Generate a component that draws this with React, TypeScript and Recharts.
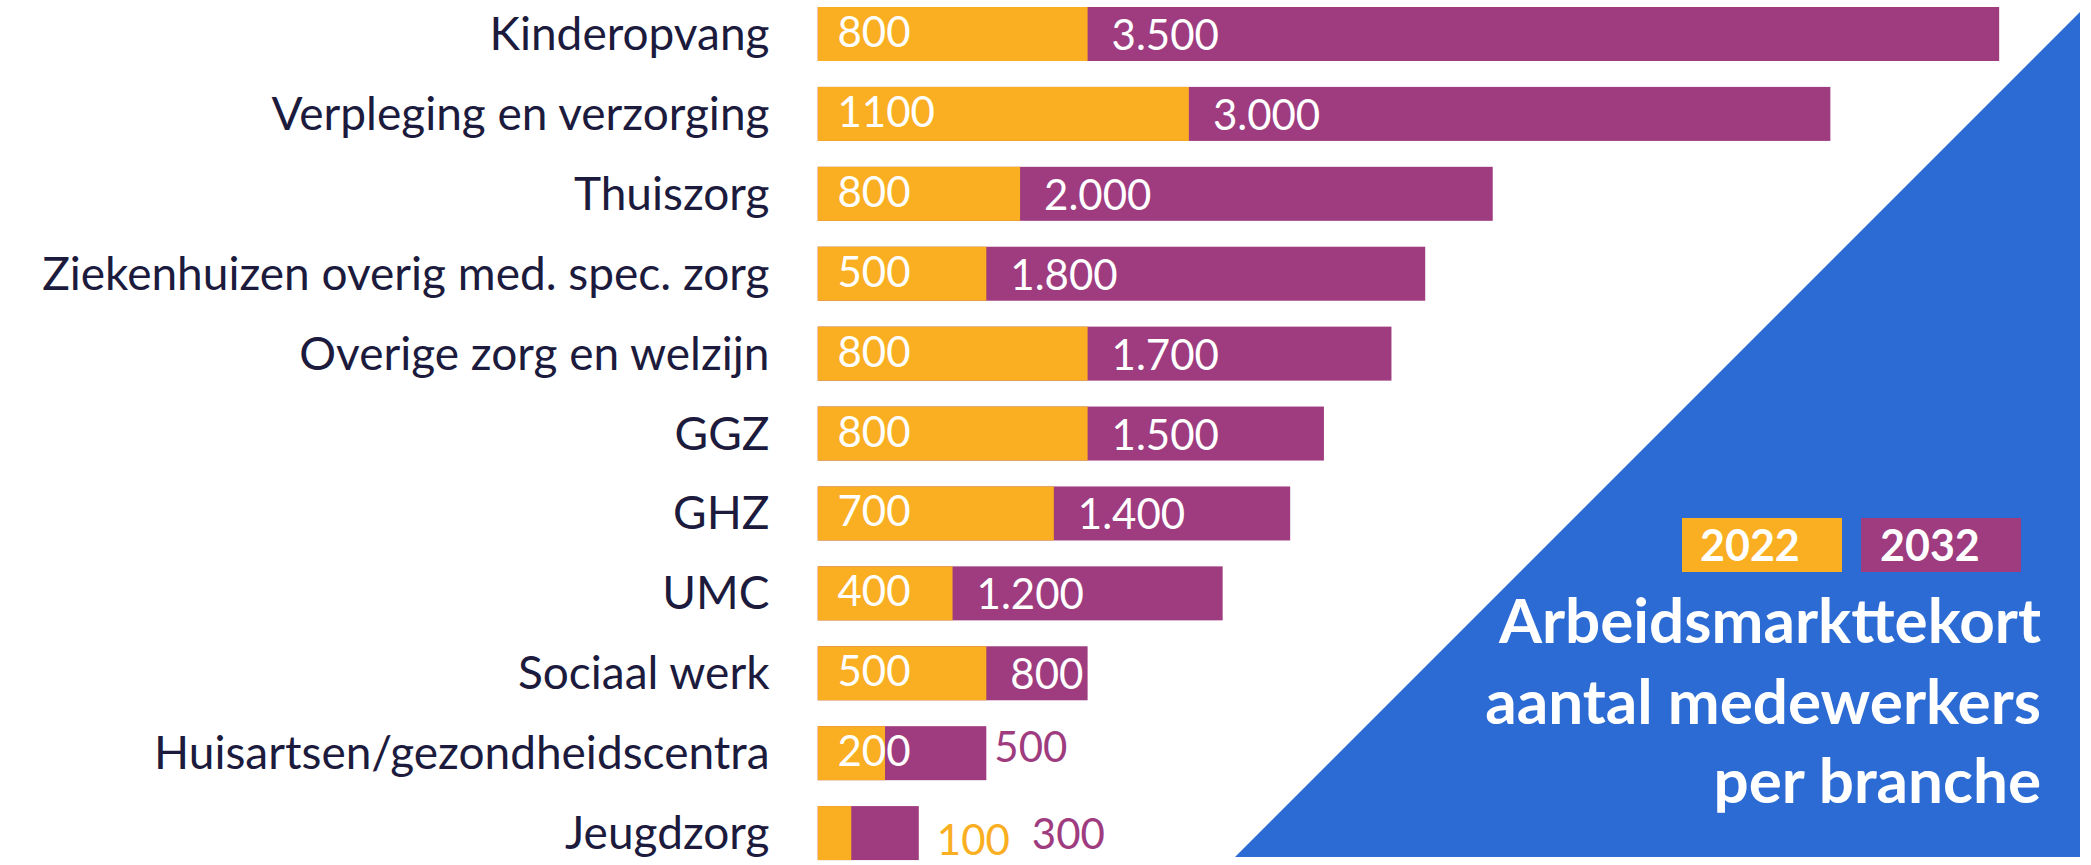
import React from "react";
import { BarChart, Bar, XAxis, YAxis } from "recharts";

const categories = [
  "Kinderopvang",
  "Verpleging en verzorging",
  "Thuiszorg",
  "Ziekenhuizen overig med. spec. zorg",
  "Overige zorg en welzijn",
  "GGZ",
  "GHZ",
  "UMC",
  "Sociaal werk",
  "Huisartsen/gezondheidscentra",
  "Jeugdzorg",
];
const values2022 = [800, 1100, 600, 500, 800, 800, 700, 400, 500, 200, 100];
const values2032 = [3500, 3000, 2000, 1800, 1700, 1500, 1400, 1200, 800, 500, 300];
const labels2022 = ["800", "1100", "800", "500", "800", "800", "700", "400", "500", "200", "100"];
const labels2032 = ["3.500", "3.000", "2.000", "1.800", "1.700", "1.500", "1.400", "1.200", "800", "500", "300"];
const legendLabels = ["2022", "2032"];
const titleLines = ["Arbeidsmarkttekort", "aantal medewerkers", "per branche"];

const data = categories.map((name, i) => ({
  name,
  v2022: values2022[i],
  v2032: values2032[i],
}));

const ORANGE = "#F9AF21";
const PURPLE = "#9E3C7F";
const BLUE = "#2B6BD3";
const NAVY = "#1C1B3D";
const FONT = "Lato, 'Source Sans Pro', 'Noto Sans', sans-serif";
const VALUE_FS = 42;

const PurpleShape = (props: any) => {
  const { x, y, width, height, index } = props;
  const cy = y + height / 2;
  const orangeW = (width * values2022[index]) / values2032[index];
  const outside = values2032[index] <= 500;
  const orangeOutside = values2022[index] < 200;
  let tx = x + orangeW + 24;
  let ty = cy + 16;
  let fill = "#ffffff";
  if (outside) {
    fill = PURPLE;
    if (orangeOutside) {
      tx = x + width + 113;
      ty = cy + 16;
    } else {
      tx = x + width + 8;
      ty = cy + 9;
    }
  }
  return (
    <g>
      <rect x={x} y={y} width={width} height={height} fill={PURPLE} />
      <text x={tx} y={ty} fill={fill} fontSize={VALUE_FS} fontFamily={FONT}>
        {labels2032[index]}
      </text>
    </g>
  );
};

const OrangeShape = (props: any) => {
  const { x, y, width, height, index } = props;
  const cy = y + height / 2;
  const purpleW = (width * values2032[index]) / values2022[index];
  const outside = values2022[index] < 200;
  const tx = outside ? x + purpleW + 18 : x + 20;
  const ty = outside ? cy + 22 : cy + 13;
  return (
    <g>
      <rect x={x} y={y} width={width} height={height} fill={ORANGE} />
      <text x={tx} y={ty} fill={outside ? ORANGE : "#ffffff"} fontSize={VALUE_FS} fontFamily={FONT}>
        {labels2022[index]}
      </text>
    </g>
  );
};

const CategoryTick = (props: any) => {
  const { x, y, payload } = props;
  return (
    <text x={x} y={y + 16} textAnchor="end" fill={NAVY} fontSize={46} fontFamily={FONT}>
      {payload.value}
    </text>
  );
};

export default function App() {
  return (
    <div
      style={{
        position: "absolute",
        left: 0,
        top: 0,
        width: 2091,
        height: 865,
        overflow: "hidden",
        background: "#ffffff",
        fontFamily: FONT,
      }}
    >
      <div style={{ position: "absolute", left: 0, top: -6 }}>
        <BarChart
          layout="vertical"
          width={2091}
          height={879}
          data={data}
          margin={{ top: 0, right: 0, bottom: 0, left: 0 }}
          barSize={54}
          barGap={-54}
        >
          <XAxis type="number" hide domain={[0, 3772]} allowDataOverflow />
          <YAxis
            type="category"
            dataKey="name"
            width={817.5}
            axisLine={false}
            tickLine={false}
            tickSize={0}
            tickMargin={48}
            interval={0}
            tick={<CategoryTick />}
          />
          <Bar dataKey="v2032" fill={PURPLE} isAnimationActive={false} shape={<PurpleShape />} />
          <Bar dataKey="v2022" fill={ORANGE} isAnimationActive={false} shape={<OrangeShape />} />
        </BarChart>
      </div>
      <svg
        width={2091}
        height={865}
        style={{ position: "absolute", left: 0, top: 0, pointerEvents: "none" }}
      >
        <polygon points="2080,12 2080,857 1235,857" fill={BLUE} />
        <rect x={1682} y={518} width={160} height={54} fill={ORANGE} />
        <rect x={1861} y={518} width={160} height={54} fill={PURPLE} />
        <text x={1700} y={561} fill="#ffffff" fontSize={43} fontWeight={700} fontFamily={FONT}>
          {legendLabels[0]}
        </text>
        <text x={1880} y={561} fill="#ffffff" fontSize={43} fontWeight={700} fontFamily={FONT}>
          {legendLabels[1]}
        </text>
        {titleLines.map((t, i) => (
          <text
            key={t}
            x={2041}
            y={[643, 724, 803][i]}
            textAnchor="end"
            fill="#ffffff"
            fontSize={62}
            fontWeight={700}
            fontFamily={FONT}
          >
            {t}
          </text>
        ))}
      </svg>
    </div>
  );
}
